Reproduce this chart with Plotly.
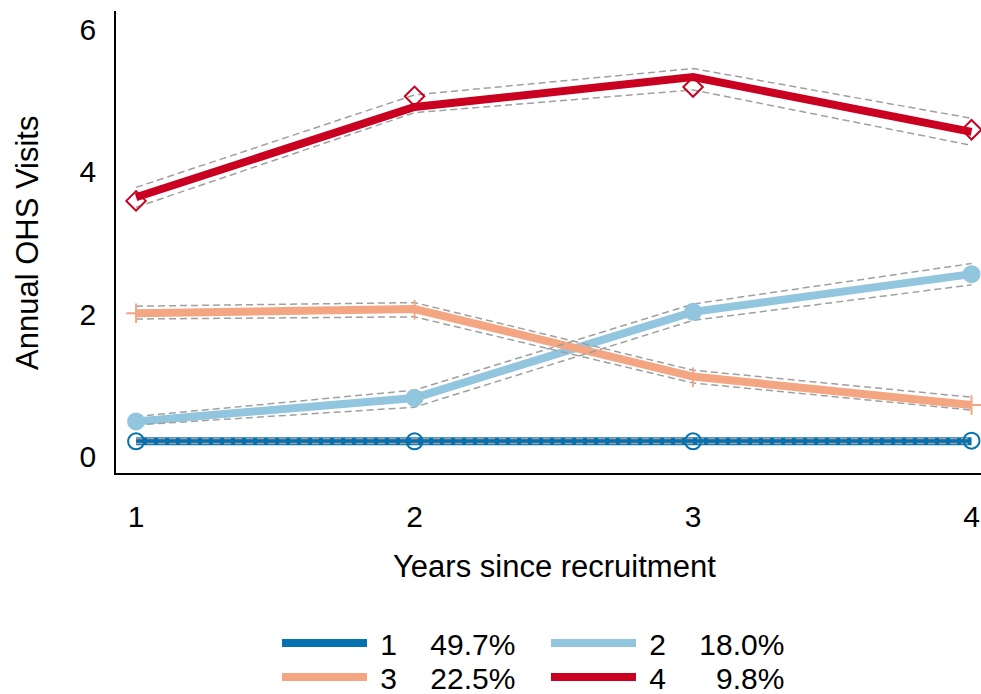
import plotly.graph_objects as go

years = [1, 2, 3, 4]
class_names = ["1", "2", "3", "4"]
class_shares = ["49.7%", "18.0%", "22.5%", "9.8%"]
colors = ["#0571b0", "#92c5de", "#f4a582", "#ca0020"]

# estimated trajectories
est_1 = [0.21, 0.21, 0.21, 0.21]
est_2 = [0.49, 0.82, 2.03, 2.56]
est_3 = [2.01, 2.07, 1.12, 0.72]
est_4 = [3.64, 4.91, 5.33, 4.56]
# confidence bounds
hi_1 = [0.25, 0.25, 0.25, 0.25]
lo_1 = [0.18, 0.18, 0.18, 0.18]
hi_2 = [0.56, 0.93, 2.14, 2.71]
lo_2 = [0.44, 0.69, 1.91, 2.41]
hi_3 = [2.11, 2.16, 1.21, 0.83]
lo_3 = [1.93, 1.96, 1.03, 0.65]
hi_4 = [3.78, 5.08, 5.45, 4.75]
lo_4 = [3.50, 4.83, 5.15, 4.37]
# observed values
obs_1 = [0.21, 0.21, 0.21, 0.22]
obs_2 = [0.49, 0.82, 2.03, 2.56]
obs_3 = [2.01, 2.06, 1.11, 0.72]
obs_4 = [3.59, 5.06, 5.19, 4.59]

ests = [est_1, est_2, est_3, est_4]
his = [hi_1, hi_2, hi_3, hi_4]
los = [lo_1, lo_2, lo_3, lo_4]
obss = [obs_1, obs_2, obs_3, obs_4]
symbols = ["circle-open", "circle", "cross-thin-open", "diamond-open"]
msizes = [16, 16, 14, 15]
legend_ids = ["legend", "legend2", "legend3", "legend4"]
# legend placement in container pixels
legend_x = [277, 546, 277, 546]
legend_y = [617, 617, 651, 651]

FONT = "Liberation Sans, Arial, sans-serif"
fig = go.Figure()

for i in range(4):
    gap = "\u00a0\u00a0\u00a0\u00a0" + ("\u00a0\u00a0" if len(class_shares[i]) == 4 else "")
    name = " " + class_names[i] + gap + class_shares[i]
    fig.add_trace(go.Scatter(
        x=years, y=ests[i], mode="lines", name=name,
        line=dict(color=colors[i], width=8), legend=legend_ids[i],
        cliponaxis=False, hoverinfo="skip"))
for i in range(4):
    for b in (his[i], los[i]):
        fig.add_trace(go.Scatter(
            x=years, y=b, mode="lines", showlegend=False,
            line=dict(color="#a0a0a0", width=1.5, dash="7px,4px"),
            cliponaxis=False, hoverinfo="skip"))
for i in range(4):
    fig.add_trace(go.Scatter(
        x=years, y=obss[i], mode="markers", showlegend=False,
        marker=dict(symbol=symbols[i], size=msizes[i], color=colors[i],
                    line=dict(color=colors[i], width=2)),
        cliponaxis=False, hoverinfo="skip"))

legend_common = dict(
    xref="container", yref="container", xanchor="left", yanchor="top",
    orientation="v", itemwidth=85, font=dict(family=FONT, size=30, color="black"),
    bgcolor="rgba(0,0,0,0)", itemclick=False, itemdoubleclick=False)

layout_legends = {}
for i in range(4):
    layout_legends[legend_ids[i]] = dict(x=legend_x[i] / 981, y=1 - legend_y[i] / 694, **legend_common)

fig.update_layout(
    width=981, height=694,
    margin=dict(l=116, r=0, t=11, b=221, autoexpand=False),
    paper_bgcolor="white", plot_bgcolor="white",
    font=dict(family=FONT, size=30, color="black"),
    xaxis=dict(range=[0.928, 4.034], tickvals=years, ticktext=["1", "2", "3", "4"],
               showgrid=False, zeroline=False, showline=True, linecolor="black", linewidth=1.5,
               ticks="", ticklabelstandoff=16, automargin=False,
               tickfont=dict(family=FONT, size=30, color="black")),
    yaxis=dict(range=[-0.235, 6.259], tickvals=[0, 2, 4, 6],
               showgrid=False, zeroline=False, showline=True, linecolor="black", linewidth=1.5,
               ticks="", ticklabelstandoff=12, automargin=False,
               tickfont=dict(family=FONT, size=30, color="black")),
    annotations=[
        dict(text="Years since recruitment", xref="paper", yref="paper",
             x=0.5, y=0, xanchor="center", yanchor="middle", yshift=-566 + 473,
             xshift=554 - (116 + 865 / 2), showarrow=False,
             font=dict(family=FONT, size=31, color="black")),
        dict(text="Annual OHS Visits", xref="paper", yref="paper",
             x=0, y=0.5, xanchor="center", yanchor="middle", textangle=-90,
             xshift=27 - 116, yshift=(11 + 462 / 2) - 243, showarrow=False,
             font=dict(family=FONT, size=31, color="black")),
    ],
    showlegend=True,
    **layout_legends,
)

fig.write_html("out.html")
